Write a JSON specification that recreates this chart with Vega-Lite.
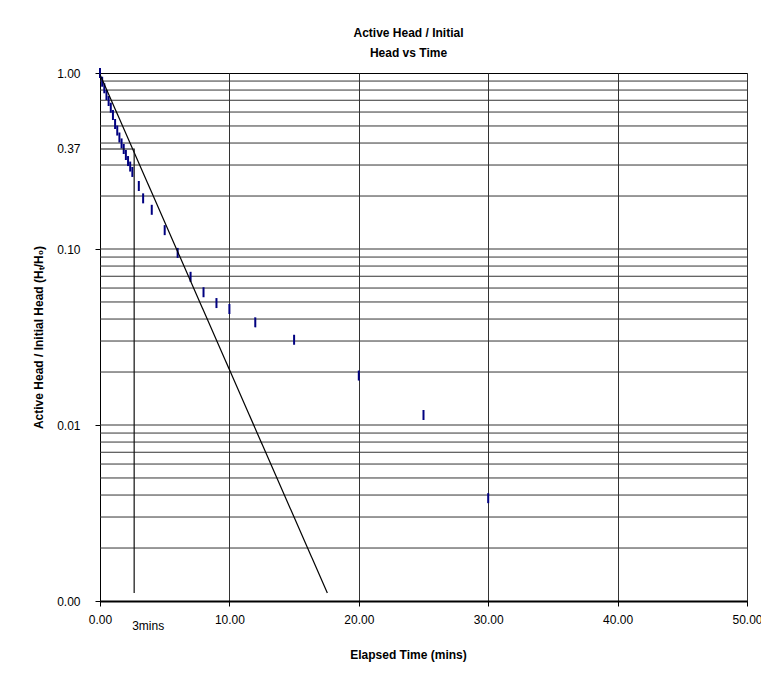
{
  "$schema": "https://vega.github.io/schema/vega-lite/v6.json",
  "width": 647,
  "height": 528,
  "autosize": {"type": "none"},
  "padding": {"left": 100, "top": 73, "right": 14, "bottom": 79},
  "background": "white",
  "title": {
    "text": ["Active Head / Initial", "Head vs Time"],
    "font": "Liberation Sans",
    "fontSize": 12,
    "fontWeight": "bold",
    "color": "#000",
    "lineHeight": 20,
    "offset": 7,
    "dx": -15,
    "anchor": "middle"
  },
  "config": {
    "view": {"stroke": "#000", "strokeWidth": 1},
    "font": "Liberation Sans"
  },
  "datasets": {
    "grid": [
      {"g": 0.002}, {"g": 0.003}, {"g": 0.004}, {"g": 0.005}, {"g": 0.006}, {"g": 0.007}, {"g": 0.008}, {"g": 0.009},
      {"g": 0.01}, {"g": 0.02}, {"g": 0.03}, {"g": 0.04}, {"g": 0.05}, {"g": 0.06}, {"g": 0.07}, {"g": 0.08}, {"g": 0.09},
      {"g": 0.1}, {"g": 0.2}, {"g": 0.3}, {"g": 0.4}, {"g": 0.5}, {"g": 0.6}, {"g": 0.7}, {"g": 0.8}, {"g": 0.9}
    ],
    "obs": [
      {"t": 0, "h": 1.0},
      {"t": 0.167, "h": 0.892},
      {"t": 0.333, "h": 0.819},
      {"t": 0.5, "h": 0.75},
      {"t": 0.667, "h": 0.693},
      {"t": 0.833, "h": 0.635},
      {"t": 1.0, "h": 0.577},
      {"t": 1.167, "h": 0.513},
      {"t": 1.333, "h": 0.471},
      {"t": 1.5, "h": 0.43},
      {"t": 1.667, "h": 0.398},
      {"t": 1.833, "h": 0.37},
      {"t": 2.0, "h": 0.342},
      {"t": 2.167, "h": 0.316},
      {"t": 2.333, "h": 0.294},
      {"t": 2.5, "h": 0.274},
      {"t": 3.0, "h": 0.228},
      {"t": 3.333, "h": 0.194},
      {"t": 4, "h": 0.167},
      {"t": 5, "h": 0.128},
      {"t": 6, "h": 0.095},
      {"t": 7, "h": 0.0695},
      {"t": 8, "h": 0.0568},
      {"t": 9, "h": 0.0493},
      {"t": 10, "h": 0.0456},
      {"t": 12, "h": 0.0383},
      {"t": 15, "h": 0.0305},
      {"t": 20, "h": 0.0191},
      {"t": 25, "h": 0.0114},
      {"t": 30, "h": 0.00384}
    ],
    "fit": [
      {"t": 0, "h": 0.98},
      {"t": 17.57, "h": 0.00111}
    ],
    "t0": [
      {"t": 0, "h": 0.37, "o": 1},
      {"t": 2.64, "h": 0.37, "o": 2},
      {"t": 2.64, "h": 0.00111, "o": 3}
    ],
    "note": [
      {"t": 2.64, "h": 0.001, "label": "3mins"}
    ]
  },
  "layer": [
    {
      "data": {"name": "grid"},
      "mark": {"type": "rule", "color": "#333", "strokeWidth": 1},
      "encoding": {
        "y": {
          "field": "g",
          "type": "quantitative",
          "scale": {"type": "log", "domain": [0.001, 1], "nice": false},
          "axis": {
            "values": [0.001, 0.01, 0.1, 0.37, 1],
            "format": ".2f",
            "grid": false,
            "domainColor": "#000",
            "tickColor": "#000",
            "tickSize": 5,
            "tickOpacity": {"condition": {"test": "datum.value == 0.37", "value": 0}, "value": 1},
            "labelPadding": 15,
            "labelFont": "Liberation Sans",
            "labelFontSize": 12,
            "labelColor": "#000",
            "labelOverlap": false,
            "title": "Active Head / Initial Head (Hₜ/H₀)",
            "titleFont": "Liberation Sans",
            "titleFontSize": 12,
            "titleFontWeight": "bold",
            "titleColor": "#000",
            "titlePadding": 11
          }
        }
      }
    },
    {
      "data": {"name": "obs"},
      "mark": {"type": "tick", "orient": "vertical", "color": "#000080", "size": 10, "thickness": 2, "opacity": 1},
      "encoding": {
        "x": {
          "field": "t",
          "type": "quantitative",
          "scale": {"domain": [0, 50], "nice": false},
          "axis": {
            "values": [0, 10, 20, 30, 40, 50],
            "format": ".2f",
            "grid": true,
            "gridColor": "#333",
            "gridWidth": 1,
            "domainColor": "#000",
            "domainWidth": 2,
            "tickColor": "#000",
            "tickSize": 5,
            "labelPadding": 8,
            "labelFlush": false,
            "labelOverlap": false,
            "labelFont": "Liberation Sans",
            "labelFontSize": 12,
            "labelColor": "#000",
            "title": "Elapsed Time (mins)",
            "titleFont": "Liberation Sans",
            "titleFontSize": 12,
            "titleFontWeight": "bold",
            "titleColor": "#000",
            "titlePadding": 24,
            "titleX": 308
          }
        },
        "y": {"field": "h", "type": "quantitative"}
      }
    },
    {
      "data": {"name": "fit"},
      "mark": {"type": "line", "color": "#000", "strokeWidth": 1.2},
      "encoding": {
        "x": {"field": "t", "type": "quantitative"},
        "y": {"field": "h", "type": "quantitative"}
      }
    },
    {
      "data": {"name": "t0"},
      "mark": {"type": "line", "color": "#111", "strokeWidth": 1.2},
      "encoding": {
        "x": {"field": "t", "type": "quantitative"},
        "y": {"field": "h", "type": "quantitative"},
        "order": {"field": "o", "type": "quantitative"}
      }
    },
    {
      "data": {"name": "note"},
      "mark": {"type": "text", "align": "left", "baseline": "top", "dx": -2, "dy": 20, "font": "Liberation Sans", "fontSize": 12, "color": "#000"},
      "encoding": {
        "x": {"field": "t", "type": "quantitative"},
        "y": {"field": "h", "type": "quantitative"},
        "text": {"field": "label", "type": "nominal"}
      }
    }
  ]
}
